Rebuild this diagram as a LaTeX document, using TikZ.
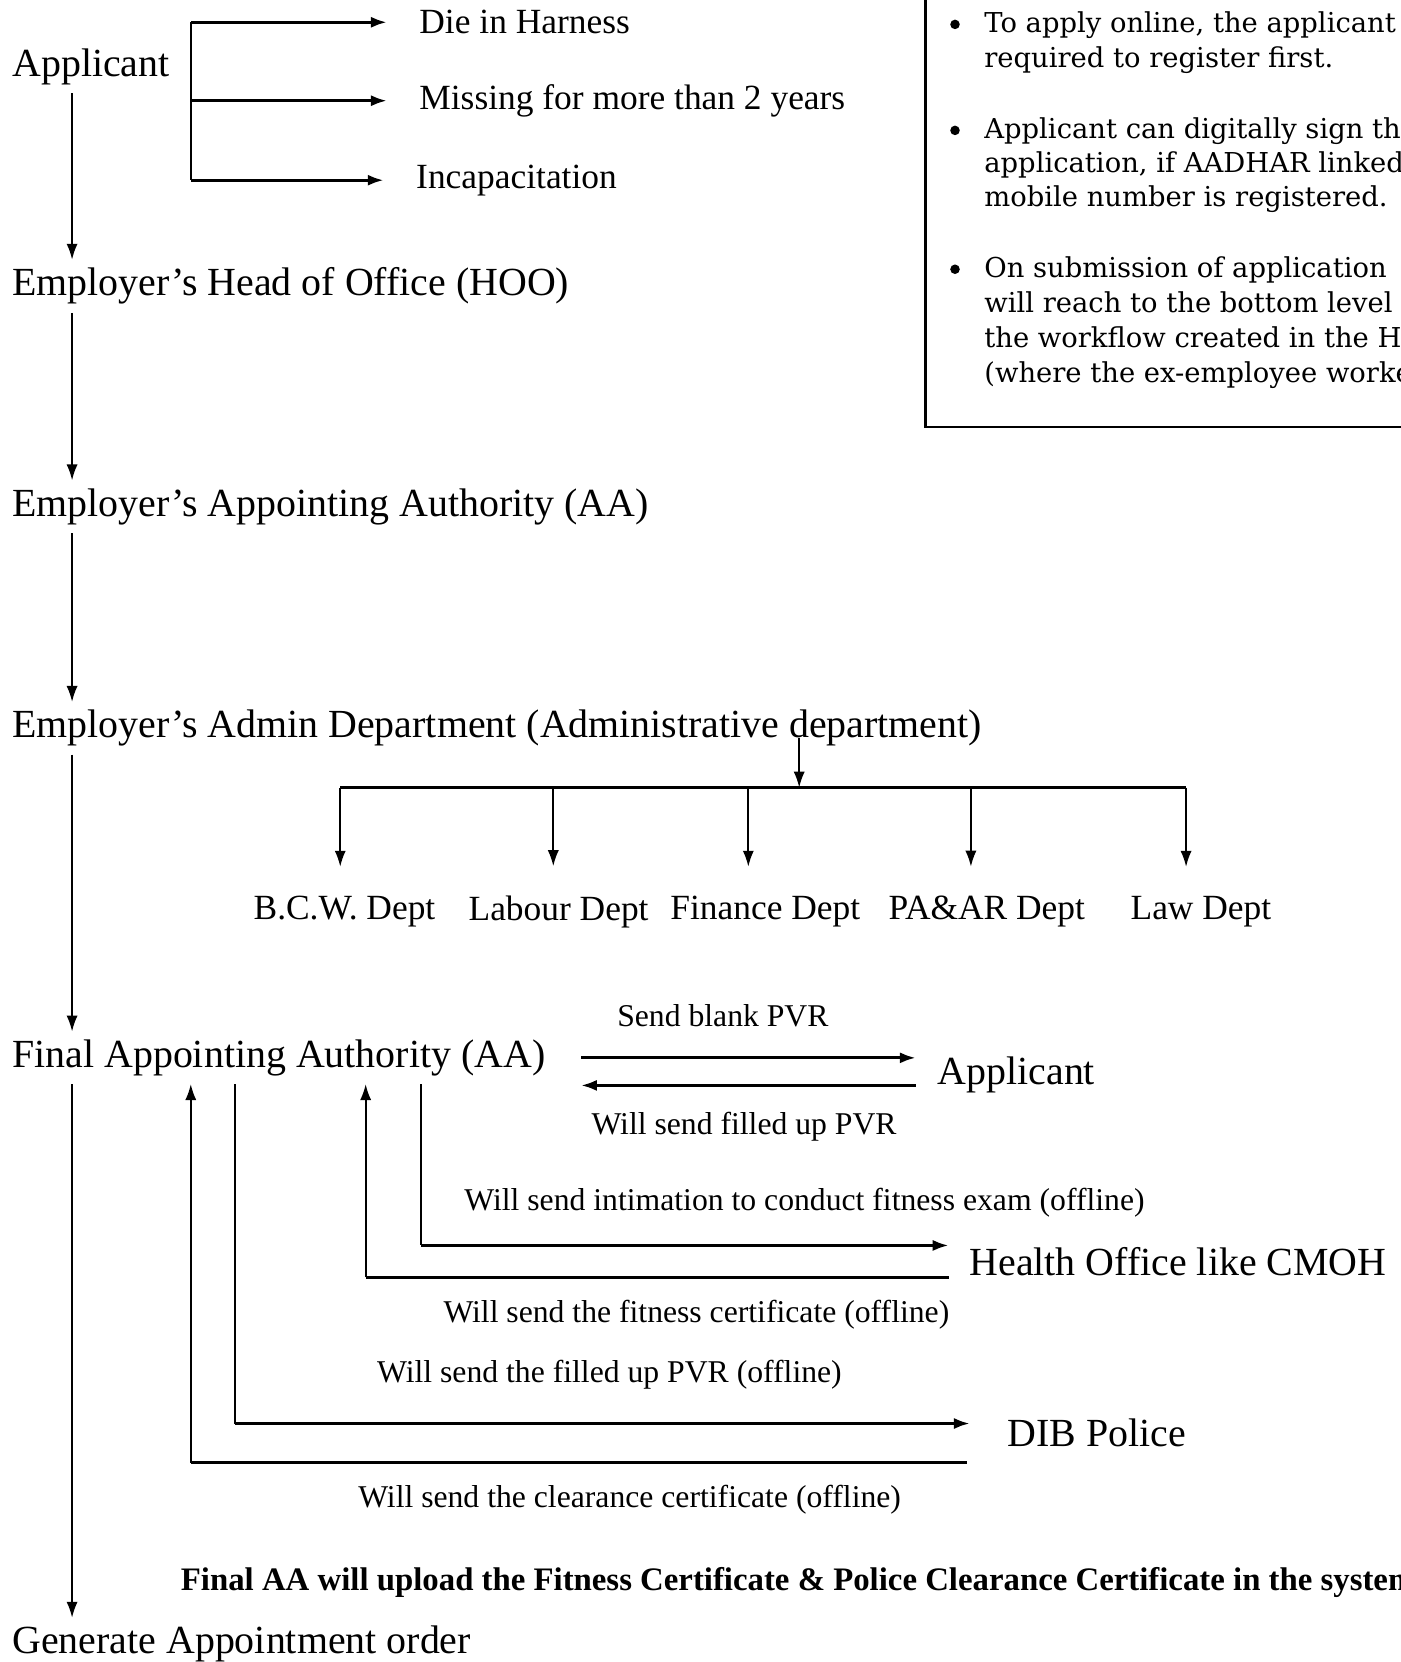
\documentclass[tikz,border=0pt]{standalone}
\usepackage{fontspec}
\setmainfont{Liberation Serif}
\newfontfamily\boxfont{DejaVu Serif}
\usetikzlibrary{arrows.meta}

\tikzset{>={Latex[length=1.5mm,width=1.05mm]}}
\tikzset{
  big/.style={anchor=west, inner xsep=0pt, inner ysep=2pt, font=\fontsize{10.7}{13}\selectfont},
  outc/.style={anchor=west, inner xsep=0pt, inner ysep=2pt, font=\fontsize{9.5}{11}\selectfont},
  lbl/.style={inner sep=0pt, font=\fontsize{8.5}{10}\selectfont},
  boxline/.style={anchor=base west, inner sep=0pt, font=\boxfont\fontsize{7.35}{9}\selectfont},
  bdot/.style={circle, fill, inner sep=0pt, minimum size=0.9mm},
  wire/.style={line width=0.45pt},
  flow/.style={line width=0.45pt, ->},
  link/.style={line width=0.8pt},
}

\begin{document}
\begin{tikzpicture}[x=0.01cm, y=-0.01cm]
  \useasboundingbox (0,0) rectangle (1321,1568);

  % main column
  \node[big] (app) at (11,63) {Applicant};
  \node[big] (hoo) at (11,270) {Employer’s Head of Office (HOO)};
  \node[big] (aa) at (11,478) {Employer’s Appointing Authority (AA)};
  \node[big] (adm) at (11,687) {Employer’s Admin Department (Administrative department)};
  \node[big] (fin) at (11,998) {Final Appointing Authority (AA)};
  \node[big] (gen) at (11,1551) {Generate Appointment order};
  \coordinate (col) at (68,0);
  \draw[flow] (app.south -| col) -- (hoo.north -| col);
  \draw[flow] (hoo.south -| col) -- (aa.north -| col);
  \draw[flow] (aa.south -| col) -- (adm.north -| col);
  \draw[flow] (adm.south -| col) -- (fin.north -| col);
  \draw[flow] (fin.south -| col) -- (gen.north -| col);

  % cases of the applicant
  \node[outc] (die) at (395,21) {Die in Harness};
  \node[outc] (mis) at (395,95) {Missing for more than 2 years};
  \node[outc] (inc) at (392,170) {Incapacitation};
  \coordinate (fork) at (180,0);
  \draw[wire] (die.west -| fork) -- (inc.west -| fork);
  \foreach \n in {die,mis,inc} { \draw[link,->,shorten >=3mm] (\n.west -| fork) -- (\n.west); }

  % departments
  \coordinate (bus) at (754,743);
  \draw[flow] (adm.base -| bus) -- (bus);
  \foreach \n/\ax/\lx/\t in {1/321/325/B.C.W. Dept, 2/522/527/Labour Dept, 3/706/722/Finance Dept,
                             4/916/931/PA\&AR Dept, 5/1119/1133/Law Dept} {%
    \node[outc, anchor=center] (d\n) at (\lx,860) {\t};
    \coordinate (t\n) at (\ax,743);
    \draw[flow,shorten >=2mm] (t\n) -- (t\n |- d\n.north);
  }
  \draw[link] (t1) -- (t5);

  % final AA and the offline steps
  \node[big] (ap2) at (884,1014) {Applicant};
  \node[big] (hlt) at (914,1190) {Health Office like CMOH};
  \node[big] (dib) at (950,1352) {DIB Police};

  \draw[link,->,shorten <=3.3mm,shorten >=2mm] (fin.east) -- (fin.east -| ap2.west);
  \draw[link,->,shorten <=2mm,shorten >=3.3mm] ([yshift=-1mm]ap2.west) -- ([yshift=-1mm]ap2.west -| fin.east);
  \node[lbl] (l1) at (682,958) {Send blank PVR};
  \node[lbl] (l2) at (702,1063) {Will send filled up PVR};

  \coordinate (h1) at (397,1175);
  \coordinate (h2) at (345,1205);
  \draw[wire] (fin.south -| h1) -- (h1);
  \draw[link,->,shorten >=1.9mm] (h1) -- (h1 -| hlt.west);
  \draw[link,shorten <=1.9mm] (h2 -| hlt.west) -- (h2);
  \draw[flow] (h2) -- (fin.south -| h2);
  \node[lbl] (l3) at (759,1135) {Will send intimation to conduct fitness exam (offline)};
  \node[lbl] (l4) at (657,1240) {Will send the fitness certificate (offline)};

  \coordinate (p1) at (222,1343);
  \coordinate (p2) at (180,1380);
  \draw[wire] (fin.south -| p1) -- (p1);
  \draw[link,->,shorten >=3.5mm] (p1) -- (p1 -| dib.west);
  \draw[link,shorten <=3.8mm] (p2 -| dib.west) -- (p2);
  \draw[flow] (p2) -- (fin.south -| p2);
  \node[lbl] (l5) at (575,1297) {Will send the filled up PVR (offline)};
  \node[lbl] (l6) at (594,1415) {Will send the clearance certificate (offline)};

  \node[anchor=west, inner sep=0pt, font=\bfseries\fontsize{8.8}{10}\selectfont] (note) at (170,1493)
    {Final AA will upload the Fitness Certificate \& Police Clearance Certificate in the system};

  % notes box
  \draw[line width=0.7pt] (873,-20) rectangle (1360,403);
  \foreach \i/\y in {1/23,2/123,3/254} { \node[bdot] (b\i) at (901,\y) {}; }
  \foreach \i/\y/\t in {1/31/{To apply online, the applicant}, 2/64/{required to register first.},
                        3/131/{Applicant can digitally sign the}, 4/163/{application, if AADHAR linked},
                        5/195/{mobile number is registered.}, 6/262/{On submission of application},
                        7/295/{will reach to the bottom level}, 8/328/{the workflow created in the HOO},
                        9/361/{(where the ex-employee worked}} {%
    \node[boxline] (n\i) at (928,\y) {\t};
  }
\end{tikzpicture}
\end{document}
